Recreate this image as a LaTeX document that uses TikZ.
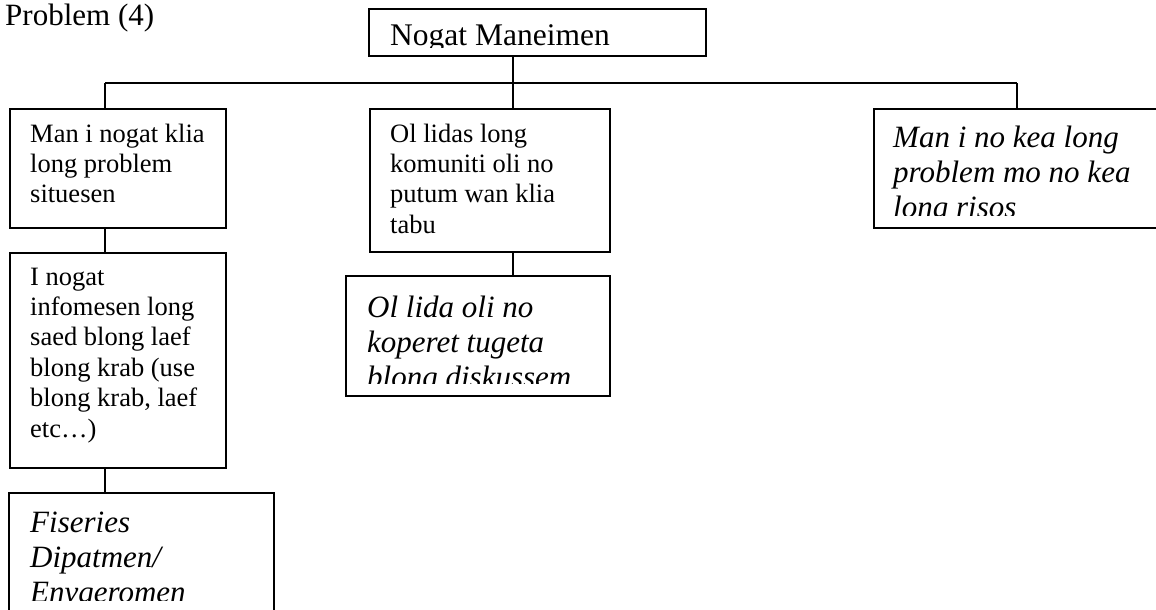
\documentclass[tikz,border=0pt]{standalone}
\usepackage{fontspec}
\setmainfont{Liberation Serif}
\begin{document}
\begin{tikzpicture}[x=1pt,y=-1pt,
  box/.style={draw, line width=1.6pt, rectangle, inner sep=0pt, anchor=north west},
  % multi-line texts are placed by the baseline of their last line
  txt/.style={anchor=base west, align=left, inner sep=0pt, font=\fontsize{26.5}{30.4}\selectfont},
  itxt/.style={anchor=base west, align=left, inner sep=0pt, font=\fontsize{31}{35}\selectfont\itshape},
  link/.style={line width=1.6pt}]
\useasboundingbox (0,0) rectangle (1156,610);

% title
\node[anchor=base west, inner sep=0pt, font=\fontsize{31}{36}\selectfont] (title) at (5,26) {Problem (4)};

% boxes
\node[box, minimum width=337pt, minimum height=47pt] (top) at (368,8) {};
\node[box, minimum width=216pt, minimum height=119pt] (b1) at (9,108) {};
\node[box, minimum width=216pt, minimum height=215pt] (b2) at (9,252) {};
\node[box, minimum width=265pt, minimum height=160pt] (b3) at (8,492) {};
\node[box, minimum width=240pt, minimum height=143pt] (m1) at (369,108) {};
\node[box, minimum width=264pt, minimum height=120pt] (m2) at (345,275) {};
\node[box, minimum width=320pt, minimum height=119pt] (r1) at (873,108) {};

% texts
\begin{scope}
  \clip (368,8) rectangle (705,48);
  \node[anchor=base west, inner sep=0pt, font=\fontsize{31.5}{36}\selectfont] (ttop) at (390,46) {Nogat Maneimen};
\end{scope}
\node[txt] (tb1) at (30,202.8) {Man i nogat klia\\long problem\\situesen};
\node[txt] (tb2) at (30,437) {I nogat\\infomesen long\\saed blong laef\\blong krab (use\\blong krab, laef\\etc…)};
\node[txt] (tm1) at (390,233.2) {Ol lidas long\\komuniti oli no\\putum wan klia\\tabu};
\begin{scope}
  \clip (8,492) rectangle (273,600);
  \node[itxt] (tb3) at (30,602) {Fiseries\\Dipatmen/\\Envgeromen};
\end{scope}
\begin{scope}
  \clip (345,275) rectangle (609,383);
  \node[itxt] (tm2) at (367,387) {Ol lida oli no\\koperet tugeta\\blong diskussem};
\end{scope}
\begin{scope}
  \clip (873,108) rectangle (1156,215);
  \node[itxt] (tr1) at (893,217) {Man i no kea long\\problem mo no kea\\long risos};
\end{scope}

% connectors
\coordinate (busL) at (105,83);
\coordinate (busM) at (513,83);
\coordinate (busR) at (1017,83);
\draw[link] (busL) -- (busR);
\draw[link] (top.south -| busM) -- (busM);
\draw[link] (busL) -- (busL |- b1.north);
\draw[link] (busM) -- (busM |- m1.north);
\draw[link] (busR) -- (busR |- r1.north);
\draw[link] (b1.south -| busL) -- (b2.north -| busL);
\draw[link] (b2.south -| busL) -- (b3.north -| busL);
\draw[link] (m1.south -| busM) -- (m2.north -| busM);
\end{tikzpicture}
\end{document}
